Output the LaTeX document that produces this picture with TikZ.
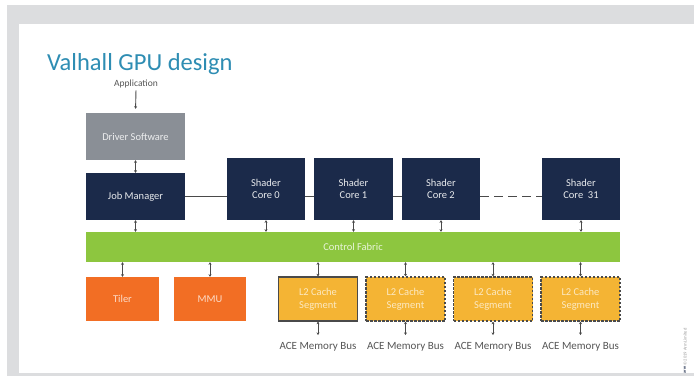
\documentclass[tikz,border=0pt]{standalone}
\usepackage{fontspec}
\setmainfont{Carlito}
\usetikzlibrary{arrows.meta,calc}
\definecolor{framegrey}{HTML}{DCDDDF}
\definecolor{titleblue}{HTML}{2E8DB3}
\definecolor{drivergrey}{HTML}{8A8F96}
\definecolor{navy}{HTML}{1B2A4A}
\definecolor{fabricgreen}{HTML}{8DC63F}
\definecolor{tilerorange}{HTML}{F26E24}
\definecolor{cacheyellow}{HTML}{F4B434}
\definecolor{linegrey}{HTML}{4A4A4A}
\definecolor{labelgrey}{HTML}{555555}
\begin{document}
\begin{tikzpicture}[x=1pt,y=-1pt,
  blockbox/.style={rectangle,inner sep=0pt,align=center,font=\fontsize{10.5}{12.5}\selectfont},
  navybox/.style={blockbox,fill=navy,text=white!90!navy},
  orangebox/.style={blockbox,fill=tilerorange,text=white!75!tilerorange,minimum height=44pt},
  cachebox/.style={blockbox,fill=cacheyellow,text=white!70!cacheyellow,minimum height=44pt,minimum width=79pt,draw=linegrey,line width=1.2pt},
  dashcache/.style={cachebox,dash pattern=on 2.5pt off 1.5pt},
  buslabel/.style={font=\fontsize{11}{13}\selectfont,text=labelgrey,inner sep=1pt,anchor=north},
  link/.style={draw=linegrey,line width=1.3pt},
  biarrow/.style={draw=linegrey,line width=0.9pt,{Stealth[length=2.6pt,width=3pt]}-{Stealth[length=2.6pt,width=3pt]}},
  downarrow/.style={draw=linegrey,line width=0.9pt,-{Stealth[length=2.6pt,width=3pt]}}
]
\useasboundingbox (0,0) rectangle (694,376);
\fill[white] (0,0) rectangle (694,376);
\fill[framegrey] (7,5) rectangle (694,376);
\fill[white] (19,24) rectangle (694,373);

\node[anchor=base west,text=titleblue,font=\fontsize{24.5}{28}\selectfont,inner sep=0pt] (title) at (47,70) {Valhall GPU design};

\node[font=\fontsize{9.5}{11}\selectfont,text=labelgrey,inner sep=1pt] (app) at (136,84) {Application};

\node[blockbox,fill=drivergrey,text=white!85!drivergrey,minimum width=99pt,minimum height=47pt] (driver) at (135.5,136.5) {Driver Software};
\node[navybox,minimum width=99pt,minimum height=47pt] (job) at (135.5,196.5) {Job Manager};

\node[navybox,minimum width=78pt,minimum height=62pt] (core0) at (266,189) {Shader\\Core 0};
\node[navybox,minimum width=79pt,minimum height=62pt] (core1) at (353.5,189) {Shader\\Core 1};
\node[navybox,minimum width=78pt,minimum height=62pt] (core2) at (441,189) {Shader\\Core 2};
\node[navybox,minimum width=78pt,minimum height=62pt] (core31) at (581,189) {Shader\\Core\ \ 31};

\node[blockbox,fill=fabricgreen,text=white!80!fabricgreen,minimum width=534pt,minimum height=30pt] (fabric) at (353,247) {Control Fabric};

\node[orangebox,minimum width=73pt] (tiler) at (122.5,299) {Tiler};
\node[orangebox,minimum width=72pt] (mmu) at (210,299) {MMU};

\node[cachebox] (l2a) at (318,299) {L2 Cache\\Segment};
\node[dashcache] (l2b) at (405.5,299) {L2 Cache\\Segment};
\node[dashcache] (l2c) at (493,299) {L2 Cache\\Segment};
\node[dashcache] (l2d) at (580.5,299) {L2 Cache\\Segment};

\node[buslabel] (acea) at (318,341) {ACE Memory Bus};
\node[buslabel] (aceb) at (405.5,341) {ACE Memory Bus};
\node[buslabel] (acec) at (493,341) {ACE Memory Bus};
\node[buslabel] (aced) at (580.5,341) {ACE Memory Bus};

% connectors
\draw[downarrow,shorten <=1pt,shorten >=4pt] (app.south) -- (driver.north);
\draw[biarrow] (driver.south) -- (job.north);
\draw[link] (job.east) -- (job.east -| core0.west);
\draw[link] (core0.east |- job.east) -- (core1.west |- job.east);
\draw[link] (core1.east |- job.east) -- (core2.west |- job.east);
\draw[link,line width=1.8pt,dash pattern=on 9pt off 5pt] (core2.east |- job.east) -- (core31.west |- job.east);

\foreach \n in {job,core0,core1,core2,core31}
  \draw[biarrow] (\n.south) -- (\n.south |- fabric.north);
\foreach \n in {tiler,mmu,l2a,l2b,l2c,l2d}
  \draw[biarrow] (\n.north |- fabric.south) -- (\n.north);
\draw[biarrow,shorten >=6pt] (l2a.south) -- (acea.north);
\draw[biarrow,shorten >=6pt] (l2b.south) -- (aceb.north);
\draw[biarrow,shorten >=6pt] (l2c.south) -- (acec.north);
\draw[biarrow,shorten >=6pt] (l2d.south) -- (aced.north);

\node[rotate=90,font=\fontsize{4.5}{5}\selectfont,text=gray!80,anchor=west,inner sep=0pt] (copy) at (685,366) {\copyright\ 2019 Arm Limited};
\node[rotate=90,font=\fontsize{4}{5}\bfseries\selectfont,text=navy,inner sep=0pt] (logo) at (685,370) {arm};
\end{tikzpicture}
\end{document}
